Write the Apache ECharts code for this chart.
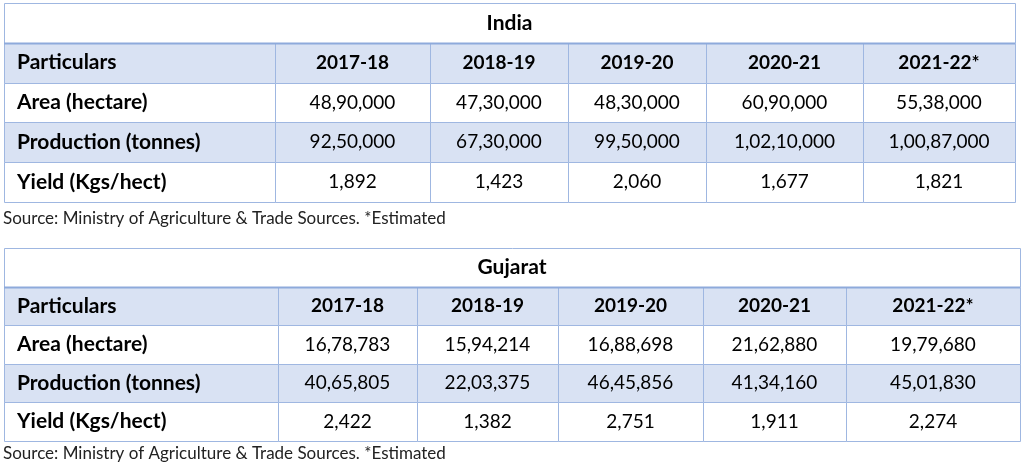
<!DOCTYPE html>
<html>
<head>
<meta charset="utf-8">
<script src="https://cdn.jsdelivr.net/npm/echarts@6/dist/echarts.min.js"></script>
<style>html,body{margin:0;padding:0;background:#fff}#c{width:1024px;height:467px}</style>
</head>
<body>
<div id="c"></div>
<script>
// ---- data ----
const years = ['2017-18', '2018-19', '2019-20', '2020-21', '2021-22*'];
const particulars = ['Area (hectare)', 'Production (tonnes)', 'Yield (Kgs/hect)'];
const indiaArea = [4890000, 4730000, 4830000, 6090000, 5538000];
const indiaProduction = [9250000, 6730000, 9950000, 10210000, 10087000];
const indiaYield = [1892, 1423, 2060, 1677, 1821];
const gujaratArea = [1678783, 1594214, 1688698, 2162880, 1979680];
const gujaratProduction = [4065805, 2203375, 4645856, 4134160, 4501830];
const gujaratYield = [2422, 1382, 2751, 1911, 2274];
const tableTitles = ['India', 'Gujarat'];
const sourceNote = 'Source: Ministry of Agriculture & Trade Sources. *Estimated';

// ---- layout ----
const FONT = 'Lato, "Open Sans", sans-serif';
const layouts = [
  { left: 4, top: 3, width: 1011, height: 199, edges: [0, 271, 426, 564, 702, 859, 1011], srcTop: 210 },
  { left: 4, top: 248, width: 1016, height: 193, edges: [0, 274, 413, 554, 699, 842, 1016], srcTop: 445 }
];
const BORDER = '#9fb7e1';
const TITLE_LINE = '#8eaadb';
const BAND = '#d9e2f3';

function indianFormat(n) {
  const s = String(Math.round(n));
  if (s.length <= 3) return s;
  const last3 = s.slice(-3);
  let rest = s.slice(0, -3);
  const parts = [];
  while (rest.length > 2) { parts.unshift(rest.slice(-2)); rest = rest.slice(0, -2); }
  if (rest.length) parts.unshift(rest);
  return parts.join(',') + ',' + last3;
}

const tables = [
  { title: tableTitles[0], rows: [indiaArea, indiaProduction, indiaYield] },
  { title: tableTitles[1], rows: [gujaratArea, gujaratProduction, gujaratYield] }
];
const rowKeys = ['title', 'header', 'r0', 'r1', 'r2'];

function buildCells(t) {
  const cells = [];
  cells.push({ value: [0, 1], kind: 'headLabel', text: 'Particulars' });
  years.forEach((y, i) => cells.push({ value: [i + 1, 1], kind: 'head', text: y }));
  t.rows.forEach((vals, r) => {
    cells.push({ value: [0, r + 2], kind: 'label', text: particulars[r] });
    vals.forEach((v, i) => cells.push({ value: [i + 1, r + 2], kind: 'val', text: indianFormat(v) }));
  });
  cells.push({ value: [0, 0], kind: 'title', text: t.title });
  return cells;
}

const cellsByTable = tables.map(buildCells);

function fontFor(kind) {
  if (kind === 'title') return 'bold 21px ' + FONT;
  if (kind === 'label' || kind === 'headLabel') return 'bold 21px ' + FONT;
  if (kind === 'head') return 'bold 19px ' + FONT;
  return '19px ' + FONT;
}

function makeRender(ti) {
  const edges = layouts[ti].edges;
  return function (params, api) {
    const col = api.value(0), row = api.value(1);
    const d = cellsByTable[ti][params.dataIndexInside];
    const bandH = api.size([0, 1])[1];
    const cy = api.coord([0, row])[1];
    let x0, x1;
    if (d.kind === 'title') { x0 = api.coord([edges[0], row])[0]; x1 = api.coord([edges[edges.length - 1], row])[0]; }
    else { x0 = api.coord([edges[col], row])[0]; x1 = api.coord([edges[col + 1], row])[0]; }
    const y0 = cy - bandH / 2;
    const fill = (row === 1 || row === 3) ? BAND : '#ffffff';
    const children = [{
      type: 'rect',
      shape: { x: Math.round(x0) + 0.5, y: Math.round(y0) + 0.5, width: Math.round(x1 - x0), height: Math.round(bandH) },
      style: { fill: fill, stroke: BORDER, lineWidth: 1 }
    }];
    const leftAlign = d.kind === 'label' || d.kind === 'headLabel';
    children.push({
      type: 'text',
      style: {
        text: d.text,
        x: leftAlign ? x0 + 13 : (x0 + x1) / 2,
        y: cy,
        align: leftAlign ? 'left' : 'center',
        verticalAlign: 'middle',
        fill: '#000',
        font: fontFor(d.kind)
      }
    });
    if (d.kind === 'title') {
      children.push({
        type: 'line',
        shape: { x1: x0, y1: Math.round(y0 + bandH) + 0.5, x2: x1, y2: Math.round(y0 + bandH) + 0.5 },
        style: { stroke: TITLE_LINE, lineWidth: 2 }
      });
    }
    return { type: 'group', children: children };
  };
}

const option = {
  animation: false,
  backgroundColor: '#fff',
  title: layouts.map(l => ({
    text: sourceNote, left: l.left - 1, top: l.srcTop, padding: 0,
    textStyle: { fontFamily: FONT, fontSize: 17, fontWeight: 'normal', color: '#222' }
  })),
  grid: layouts.map(l => ({ left: l.left, top: l.top, width: l.width, height: l.height, containLabel: false })),
  xAxis: layouts.map((l, i) => ({ type: 'value', gridIndex: i, min: 0, max: l.edges[l.edges.length - 1], show: false })),
  yAxis: layouts.map((l, i) => ({ type: 'category', gridIndex: i, data: rowKeys, inverse: true, show: false })),
  series: tables.map((t, i) => ({
    type: 'custom',
    xAxisIndex: i, yAxisIndex: i,
    renderItem: makeRender(i),
    data: cellsByTable[i],
    encode: { x: 0, y: 1 },
    clip: false
  }))
};

echarts.init(document.getElementById('c')).setOption(option);
</script>
</body>
</html>
